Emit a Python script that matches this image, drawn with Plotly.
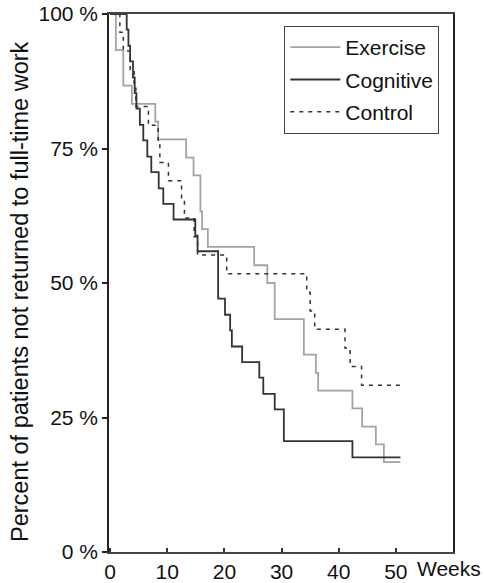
import plotly.graph_objects as go

# Kaplan-Meier style step data (weeks, percent not returned to full-time work)
exercise_weeks = [0, 1.0, 2.3, 3.8, 7.9, 8.4, 13.3, 14.6, 15.8, 16.1, 17.1, 25.2, 27.5, 28.8, 33.9, 36.0, 36.4, 42.4, 44.1, 46.5, 47.9, 50.8]
exercise_pct = [100, 93.3, 86.7, 83.3, 80.0, 76.7, 73.3, 70.0, 63.3, 60.0, 56.7, 53.3, 50.0, 43.3, 36.7, 33.3, 30.0, 26.7, 23.3, 20.0, 16.7, 16.7]

cognitive_weeks = [0, 2.9, 3.2, 3.5, 4.0, 4.3, 4.6, 5.2, 5.8, 6.5, 7.2, 8.5, 9.3, 11.1, 14.9, 15.3, 18.9, 20.1, 21.0, 21.3, 23.1, 26.1, 26.8, 28.8, 30.4, 42.4, 50.8]
cognitive_pct = [100, 97.1, 94.1, 91.2, 88.2, 85.3, 82.4, 79.4, 76.5, 73.5, 70.6, 67.6, 64.7, 61.8, 58.8, 55.9, 47.1, 44.1, 41.2, 38.2, 35.3, 32.4, 29.4, 26.5, 20.6, 17.6, 17.6]

control_weeks = [0, 1.7, 2.3, 3.5, 4.2, 4.5, 6.7, 8.4, 8.7, 10.2, 12.5, 13.0, 14.7, 15.3, 20.4, 34.4, 35.0, 35.8, 41.1, 42.0, 44.0, 50.7]
control_pct = [100, 96.6, 93.1, 89.7, 86.2, 82.8, 79.3, 75.9, 72.4, 69.0, 65.5, 62.1, 58.6, 55.2, 51.7, 48.3, 44.8, 41.4, 37.9, 34.5, 31.0, 31.0]

x_ticks = [0, 10, 20, 30, 40, 50]
y_ticks = [0, 25, 50, 75, 100]
y_tick_labels = ["0 %", "25 %", "50 %", "75 %", "100 %"]

FONT = "Liberation Sans, Arial, sans-serif"

fig = go.Figure()
fig.add_trace(go.Scatter(x=exercise_weeks, y=exercise_pct, mode="lines", name="Exercise",
                         line=dict(shape="hv", color="#a3a3a3", width=1.8), legendgroup="a"))
fig.add_trace(go.Scatter(x=cognitive_weeks, y=cognitive_pct, mode="lines", name="Cognitive",
                         line=dict(shape="hv", color="#333333", width=1.8), legendgroup="b"))
fig.add_trace(go.Scatter(x=control_weeks, y=control_pct, mode="lines", name="Control",
                         line=dict(shape="hv", color="#333333", width=1.5, dash="4px,5px"), legendgroup="c"))

fig.update_layout(
    template="none",
    width=484, height=583,
    margin=dict(l=109, r=31, t=14, b=31, autoexpand=False),
    paper_bgcolor="white", plot_bgcolor="white",
    font=dict(family=FONT, size=21, color="#111111"),
    showlegend=True,
    legend=dict(x=0.509, y=0.978, xanchor="left", yanchor="top",
                bordercolor="#444444", borderwidth=1.2, bgcolor="white",
                font=dict(size=21), tracegroupgap=2, traceorder="grouped",
                itemwidth=50),
    xaxis=dict(range=[-0.2, 60], tickvals=x_ticks, ticktext=[str(v) for v in x_ticks],
               automargin=False,
               showgrid=False, zeroline=False, showline=True, linecolor="#444444", linewidth=1.5,
               mirror=True, ticks="inside", ticklen=4, tickwidth=2, tickcolor="#333333",
               tickfont=dict(size=21)),
    yaxis=dict(range=[0, 100], tickvals=y_ticks, ticktext=y_tick_labels,
               automargin=False,
               showgrid=False, zeroline=False, showline=True, linecolor="#222222", linewidth=1.5,
               mirror=True, ticks="outside", ticklen=5, tickwidth=2, tickcolor="#222222",
               tickfont=dict(size=21)),
    annotations=[
        dict(text="Weeks", x=1.088, y=-0.03, xref="paper", yref="paper",
             xanchor="right", yanchor="middle", showarrow=False, font=dict(size=21)),
        dict(text="Percent of patients not returned to full-time work", textangle=-90,
             x=-0.259, y=0.485, xref="paper", yref="paper", xanchor="center", yanchor="middle",
             showarrow=False, font=dict(size=23.5)),
    ],
)

# Remove the page's default body margin so the figure fills the window exactly.
fig.write_html("out.html", config={"displayModeBar": False},
               post_script="document.body.style.margin='0px';")
